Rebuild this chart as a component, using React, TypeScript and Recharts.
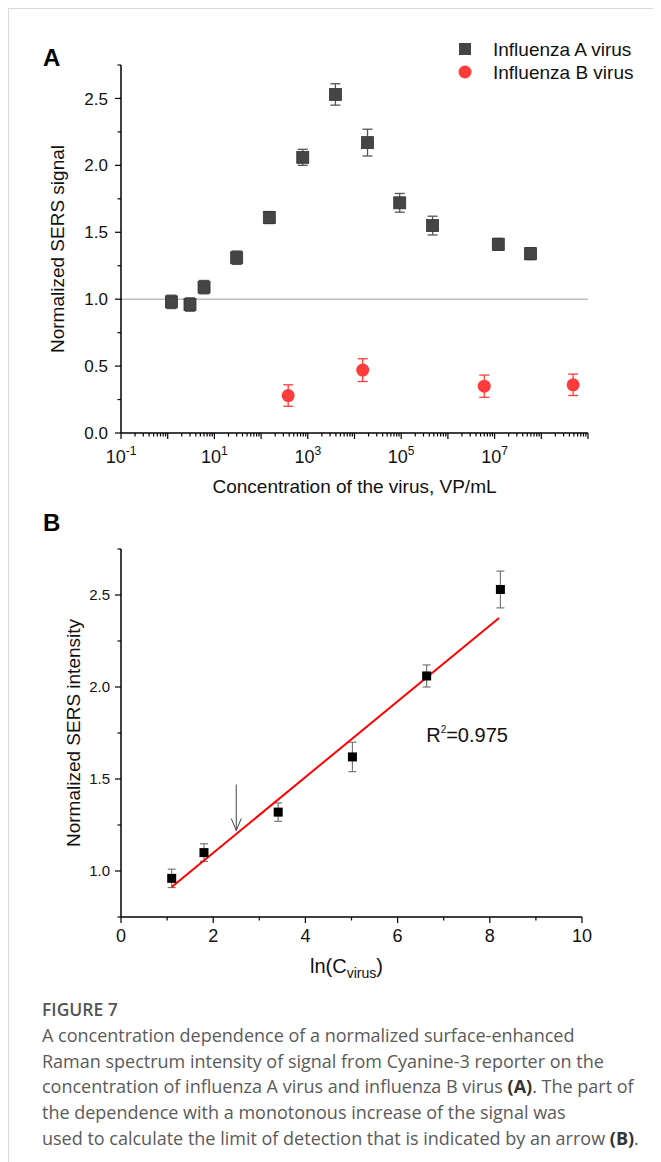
import React from "react";
import {
  ScatterChart,
  Scatter,
  XAxis,
  YAxis,
  ErrorBar,
  ReferenceLine,
  ReferenceDot,
  Legend,
} from "recharts";

const FONT = "'Liberation Sans', Arial, sans-serif";

// Panel A: concentration (VP/mL) vs normalized SERS signal
const FLU_A_CONC = [1.2, 3, 6, 30, 150, 780, 3900, 19000, 93000, 470000, 12000000, 59000000];
const FLU_A_SIGNAL = [0.98, 0.96, 1.09, 1.31, 1.61, 2.06, 2.53, 2.17, 1.72, 1.55, 1.41, 1.34];
const FLU_A_ERR = [0.05, 0.05, 0.05, 0.05, 0.045, 0.06, 0.08, 0.1, 0.07, 0.07, 0.045, 0.045];

const FLU_B_CONC = [380, 15000, 6000000, 480000000];
const FLU_B_SIGNAL = [0.28, 0.47, 0.35, 0.36];
const FLU_B_ERR = [0.08, 0.085, 0.083, 0.08];

const A_DECADES = [-1, 0, 1, 2, 3, 4, 5, 6, 7, 8];
const A_MINOR = [2, 3, 4, 5, 6, 7, 8, 9];
const A_LABELLED = [-1, 1, 3, 5, 7];
const A_Y_TICKS = [0, 0.25, 0.5, 0.75, 1, 1.25, 1.5, 1.75, 2, 2.25, 2.5, 2.75];
const A_BASELINE = 1.0;

// Panel B: ln(C) vs normalized SERS intensity
const LN_C = [1.1, 1.8, 3.41, 5.02, 6.63, 8.23];
const B_SIGNAL = [0.96, 1.1, 1.32, 1.62, 2.06, 2.53];
const B_ERR = [0.05, 0.048, 0.05, 0.08, 0.06, 0.1];
const FIT_X = [1.1, 8.2];
const FIT_Y = [0.913, 2.375];
const LOD_X = 2.5;
const LOD_ARROW_Y = [1.47, 1.22];
const R2_TEXT_AT = [6.62, 1.7];
const B_X_TICKS = [0, 1, 2, 3, 4, 5, 6, 7, 8, 9, 10];
const B_Y_TICKS = [0.75, 1, 1.25, 1.5, 1.75, 2, 2.25, 2.5, 2.75];

const CAPTION_LINES = [
  "A concentration dependence of a normalized surface-enhanced",
  "Raman spectrum intensity of signal from Cyanine-3 reporter on the",
  "concentration of influenza A virus and influenza B virus |(A)|. The part of",
  "the dependence with a monotonous increase of the signal was",
  "used to calculate the limit of detection that is indicated by an arrow |(B)|.",
];

const fluA = FLU_A_CONC.map((c, i) => ({ c, v: FLU_A_SIGNAL[i], err: FLU_A_ERR[i] }));
const fluB = FLU_B_CONC.map((c, i) => ({ c, v: FLU_B_SIGNAL[i], err: FLU_B_ERR[i] }));
const aXTicks = [
  ...A_DECADES.flatMap((e) => [10 ** e, ...A_MINOR.map((m) => m * 10 ** e)]),
  1e9,
];
const lnData = LN_C.map((x, i) => ({ x, v: B_SIGNAL[i], err: B_ERR[i] }));
const fitData = FIT_X.map((x, i) => ({ x, v: FIT_Y[i] }));

const isMultiple = (v: number, step: number) => Math.abs(v / step - Math.round(v / step)) < 1e-6;

function LogXTick({ x, y, payload }: any) {
  const v = payload.value as number;
  const exp = Math.round(Math.log10(v));
  const major = Math.abs(v - 10 ** exp) < v * 1e-6;
  return (
    <g>
      <line x1={x} x2={x} y1={y} y2={y + (major ? 6 : 3.5)} stroke="#000" strokeWidth={1.2} />
      {major && A_LABELLED.includes(exp) && (
        <text x={x} y={y + 30} textAnchor="middle" fontFamily={FONT} fontSize={18} fill="#111">
          10
          <tspan dy={-8} fontSize={12}>
            {exp}
          </tspan>
        </text>
      )}
    </g>
  );
}

function makeYTick(fontSize: number, gap: number) {
  return ({ x, y, payload }: any) => {
    const v = payload.value as number;
    const major = isMultiple(v, 0.5);
    return (
      <g>
        <line x1={x} x2={x - (major ? 6 : 3.5)} y1={y} y2={y} stroke="#000" strokeWidth={1.2} />
        {major && (
          <text x={x - gap} y={y} dy="0.36em" textAnchor="end" fontFamily={FONT} fontSize={fontSize} fill="#111">
            {v.toFixed(1)}
          </text>
        )}
      </g>
    );
  };
}

function LinXTick({ x, y, payload }: any) {
  const v = payload.value as number;
  const major = isMultiple(v, 2);
  return (
    <g>
      <line x1={x} x2={x} y1={y} y2={y + (major ? 6 : 3.5)} stroke="#000" strokeWidth={1.2} />
      {major && (
        <text x={x} y={y + 25} textAnchor="middle" fontFamily={FONT} fontSize={18} fill="#111">
          {v}
        </text>
      )}
    </g>
  );
}

const yTickA = makeYTick(17, 13);
const yTickB = makeYTick(15, 11);

function SquareA({ cx, cy }: any) {
  return <rect x={cx - 6} y={cy - 6} width={12} height={12} fill="#454545" stroke="#333" strokeWidth={0.8} />;
}
function CircleB({ cx, cy }: any) {
  return <circle cx={cx} cy={cy} r={6.5} fill="#ff3b3b" />;
}
function SquareBlack({ cx, cy }: any) {
  return <rect x={cx - 4.5} y={cy - 4.5} width={9} height={9} fill="#000" />;
}
const NoDot = () => <g />;

function ArrowShape(p: any) {
  const { x1, y1, x2, y2 } = p;
  return (
    <g>
      <line x1={x1} y1={y1} x2={x2} y2={y2} stroke="#444" strokeWidth={1} />
      <polyline
        points={`${x2 - 5},${y2 - 12} ${x2},${y2} ${x2 + 5},${y2 - 12}`}
        fill="none"
        stroke="#444"
        strokeWidth={1}
      />
    </g>
  );
}

function LegendA() {
  const rows = [
    { name: "Influenza A virus", icon: <rect x={0} y={0} width={12} height={12} fill="#454545" /> },
    { name: "Influenza B virus", icon: <circle cx={6} cy={6} r={6.5} fill="#ff3b3b" /> },
  ];
  return (
    <div style={{ fontFamily: FONT, fontSize: 19, color: "#111" }}>
      {rows.map((r) => (
        <div key={r.name} style={{ display: "flex", alignItems: "center", height: 23 }}>
          <svg width={13} height={13} style={{ overflow: "visible" }}>
            {r.icon}
          </svg>
          <span style={{ marginLeft: 21 }}>{r.name}</span>
        </div>
      ))}
    </div>
  );
}

function ChartA() {
  return (
    <ScatterChart width={600} height={480} margin={{ top: 37, right: 20, bottom: 35, left: 53 }}>
      <XAxis
        type="number"
        dataKey="c"
        scale="log"
        domain={[0.1, 1e9]}
        ticks={aXTicks}
        interval={0}
        tick={LogXTick}
        tickSize={0}
        tickMargin={0}
        tickLine={false}
        axisLine={{ stroke: "#000", strokeWidth: 1.5 }}
        height={40}
        label={{
          content: ({ viewBox }: any) => (
            <text
              x={viewBox.x + viewBox.width / 2}
              y={viewBox.y + 60}
              textAnchor="middle"
              fontFamily={FONT}
              fontSize={19}
              fill="#111"
            >
              Concentration of the virus, VP/mL
            </text>
          ),
        }}
      />
      <YAxis
        type="number"
        dataKey="v"
        domain={[0, 2.75]}
        ticks={A_Y_TICKS}
        interval={0}
        tick={yTickA}
        tickSize={0}
        tickMargin={0}
        tickLine={false}
        axisLine={{ stroke: "#000", strokeWidth: 1.5 }}
        width={60}
        label={{
          content: ({ viewBox }: any) => {
            const cx = viewBox.x + viewBox.width - 64;
            const cy = viewBox.y + viewBox.height / 2;
            return (
              <text
                x={cx}
                y={cy}
                transform={`rotate(-90, ${cx}, ${cy})`}
                textAnchor="middle"
                dominantBaseline="central"
                fontFamily={FONT}
                fontSize={19}
                fill="#111"
              >
                Normalized SERS signal
              </text>
            );
          },
        }}
      />
      <ReferenceLine y={A_BASELINE} stroke="#9a9a9a" strokeWidth={1} />
      <Legend
        layout="vertical"
        align="center"
        verticalAlign="middle"
        content={() => <LegendA />}
        wrapperStyle={{ top: 10, left: 451, width: 200 }}
      />
      <Scatter name="Influenza A virus" data={fluA} shape={SquareA} isAnimationActive={false}>
        <ErrorBar dataKey="err" direction="y" width={5} stroke="#555" strokeWidth={1.3} />
      </Scatter>
      <Scatter name="Influenza B virus" data={fluB} shape={CircleB} isAnimationActive={false}>
        <ErrorBar dataKey="err" direction="y" width={5} stroke="#ff3b3b" strokeWidth={1.3} />
      </Scatter>
    </ScatterChart>
  );
}

function ChartB() {
  return (
    <ScatterChart width={600} height={490} margin={{ top: 49, right: 26, bottom: 33, left: 53 }}>
      <XAxis
        type="number"
        dataKey="x"
        domain={[0, 10]}
        ticks={B_X_TICKS}
        interval={0}
        tick={LinXTick}
        tickSize={0}
        tickMargin={0}
        tickLine={false}
        axisLine={{ stroke: "#000", strokeWidth: 1.5 }}
        height={40}
        label={{
          content: ({ viewBox }: any) => (
            <text
              x={viewBox.x + viewBox.width / 2 - 5}
              y={viewBox.y + 56}
              textAnchor="middle"
              fontFamily={FONT}
              fontSize={20}
              fill="#111"
            >
              ln(C
              <tspan dy={5} fontSize={14}>
                virus
              </tspan>
              <tspan dy={-5}>)</tspan>
            </text>
          ),
        }}
      />
      <YAxis
        type="number"
        dataKey="v"
        domain={[0.75, 2.75]}
        ticks={B_Y_TICKS}
        interval={0}
        tick={yTickB}
        tickSize={0}
        tickMargin={0}
        tickLine={false}
        axisLine={{ stroke: "#000", strokeWidth: 1.5 }}
        width={60}
        label={{
          content: ({ viewBox }: any) => {
            const cx = viewBox.x + viewBox.width - 48;
            const cy = viewBox.y + viewBox.height / 2;
            return (
              <text
                x={cx}
                y={cy}
                transform={`rotate(-90, ${cx}, ${cy})`}
                textAnchor="middle"
                dominantBaseline="central"
                fontFamily={FONT}
                fontSize={19}
                fill="#111"
              >
                Normalized SERS intensity
              </text>
            );
          },
        }}
      />
      <Scatter
        data={fitData}
        shape={NoDot}
        line={{ stroke: "#ff0000", strokeWidth: 2 }}
        legendType="none"
        isAnimationActive={false}
      />
      <ReferenceLine
        segment={[
          { x: LOD_X, y: LOD_ARROW_Y[0] },
          { x: LOD_X, y: LOD_ARROW_Y[1] },
        ]}
        shape={ArrowShape}
      />
      <ReferenceDot
        x={R2_TEXT_AT[0]}
        y={R2_TEXT_AT[1]}
        r={0}
        fill="none"
        stroke="none"
        label={{
          content: ({ viewBox }: any) => (
            <text x={viewBox.x} y={viewBox.y} fontFamily={FONT} fontSize={20} fill="#111">
              R
              <tspan dy={-9} fontSize={10}>
                2
              </tspan>
              <tspan dy={9}>=0.975</tspan>
            </text>
          ),
        }}
      />
      <Scatter data={lnData} shape={SquareBlack} isAnimationActive={false}>
        <ErrorBar dataKey="err" direction="y" width={4} stroke="#777" strokeWidth={1.2} />
      </Scatter>
    </ScatterChart>
  );
}

const panelLetter: React.CSSProperties = {
  position: "absolute",
  fontFamily: FONT,
  fontWeight: "bold",
  fontSize: 24,
  color: "#000",
  lineHeight: "24px",
};

function CaptionLine({ text }: { text: string }) {
  const parts = text.split("|");
  return (
    <div style={{ whiteSpace: "nowrap" }}>
      {parts.map((p, i) =>
        i % 2 === 1 ? (
          <b key={i} style={{ color: "#333", fontWeight: 700 }}>
            {p}
          </b>
        ) : (
          <span key={i}>{p}</span>
        )
      )}
    </div>
  );
}

export default function App() {
  return (
    <div style={{ position: "relative", width: 653, height: 1154, background: "#fff" }}>
      <div
        style={{
          position: "absolute",
          top: 0,
          left: 0,
          right: 0,
          bottom: 0,
          borderTop: "1px solid #d9d9d9",
          borderLeft: "1px solid #d9d9d9",
        }}
      />
      <div style={{ ...panelLetter, left: 35, top: 38 }}>A</div>
      <div style={{ position: "absolute", left: 0, top: 20 }}>
        <ChartA />
      </div>
      <div style={{ ...panelLetter, left: 35, top: 503 }}>B</div>
      <div style={{ position: "absolute", left: 0, top: 492 }}>
        <ChartB />
      </div>
      <div
        style={{
          position: "absolute",
          left: 34,
          top: 989,
          fontFamily: "'Open Sans', Lato, sans-serif",
          fontSize: 18,
          lineHeight: "25.75px",
          color: "#5a5a5a",
        }}
      >
        <div style={{ fontWeight: 600, fontSize: 17.5, color: "#555" }}>FIGURE 7</div>
        {CAPTION_LINES.map((t) => (
          <CaptionLine key={t} text={t} />
        ))}
      </div>
    </div>
  );
}
